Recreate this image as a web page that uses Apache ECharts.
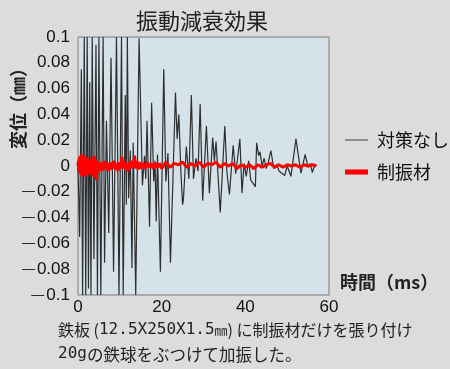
<!DOCTYPE html>
<html><head><meta charset="utf-8">
<script src="https://cdn.jsdelivr.net/npm/echarts@6/dist/echarts.min.js"></script>
<style>html,body{margin:0;padding:0;background:#dcdcdc}#c{width:450px;height:369px}</style>
</head><body><div id="c"></div>
<script>
const titleText = '振動減衰効果';
const yName = '変位（㎜）';
const xName = '時間（ms）';
const seriesNames = ['対策なし', '制振材'];
const xTicks = { min: 0, max: 60, interval: 20 };
const yTicks = { min: -0.1, max: 0.1, interval: 0.02 };

// 対策なし (no treatment)
const blackT = [0.0,0.4,0.8,1.1,1.5,1.85,2.2,2.5,2.8,3.1,3.4,3.8,4.3,4.65,5.0,5.45,6.0,6.35,6.8,7.35,7.9,8.5,9.2,9.8,10.4,10.8,11.3,11.55,11.8,12.1,12.5,12.9,13.2,13.8,14.6,15.4,15.9,16.2,16.5,17.1,17.6,18.1,18.4,18.7,19.0,19.7,20.5,21.0,21.5,22.1,23.3,23.7,24.1,24.6,25.0,25.2,25.9,26.5,27.1,27.6,28.2,28.7,29.2,29.8,30.7,31.4,32.2,32.6,33.0,34.0,35.1,35.6,36.2,37.1,37.7,38.7,39.2,39.7,40.2,40.8,41.3,42.4,42.7,43.2,43.5,44.0,44.5,45.0,45.5,46.1,46.8,47.5,48.1,48.9,49.4,50.0,50.9,52.1,53.3,54.3,55.0,55.5,56.0,56.5];
const blackV = [0,-0.055,0.075,-0.1,0.1,-0.1,0.1,-0.095,0.065,-0.1,0.1,-0.072,0.094,-0.1,0.1,-0.1,0.1,-0.075,0.035,-0.052,0.084,-0.082,0.1,-0.1,0.1,-0.1,0.055,-0.03,0.1,-0.025,0.012,-0.079,0.018,-0.1,0.099,-0.015,0.008,-0.01,0.035,-0.047,0.049,-0.012,0.004,-0.043,0.009,-0.082,0.075,-0.012,0.01,-0.075,0.057,0.021,0.04,-0.005,-0.03,-0.026,0.015,-0.01,0.055,-0.01,0.006,-0.004,0.048,-0.027,0.031,-0.021,0.022,0.004,0.019,-0.036,0.031,-0.005,-0.022,0.016,-0.006,0.021,-0.021,0.002,-0.008,0.004,-0.011,-0.016,0.018,0.008,0.011,0.0,0.006,-0.002,0.003,0.012,-0.002,0.001,-0.004,-0.006,-0.0075,0.0,-0.008,0.021,-0.0055,0.009,-0.001,0.002,-0.005,0.0];

// 制振材 (damping material)
const redT = [0.0,0.1,0.2,0.3,0.4,0.5,0.6,0.7,0.8,0.9,1.0,1.1,1.2,1.3,1.4,1.5,1.6,1.7,1.8,1.9,2.0,2.1,2.2,2.3,2.4,2.5,2.6,2.7,2.8,2.9,3.0,3.1,3.2,3.3,3.4,3.5,3.6,3.7,3.8,3.9,4.0,4.1,4.2,4.3,4.4,4.5,4.6,4.7,4.8,5.0,5.2,5.4,5.6,5.8,6.0,6.3,6.6,6.9,7.2,7.5,7.8,8.1,8.4,8.7,9.0,9.3,9.6,9.9,10.2,10.5,10.8,11.1,11.4,11.7,12.0,12.3,12.6,12.9,13.2,13.5,13.8,14.1,14.4,14.7,15.0,15.5,16.0,16.5,17.0,17.5,18.0,18.5,19.0,19.5,20.0,21,22,23,24,25,26,27,28,29,30,31,32,33,34,35,36,37,38,39,40,41,42,43,44,45,46,47,48,49,50,51,52,53,54,55,56,57];
const redV = [0,0.004,-0.005,0.006,-0.004,0.008,-0.006,0.005,-0.008,0.009,-0.004,0.007,-0.007,0.006,-0.003,0.008,-0.006,0.004,-0.008,0.007,-0.005,0.006,-0.004,0.005,-0.007,0.004,-0.003,0.005,-0.005,0.003,-0.006,0.004,-0.004,0.007,-0.003,0.005,-0.008,0.006,-0.005,0.008,-0.006,0.004,-0.009,0.005,-0.011,0.004,-0.006,0.003,-0.004,0.002,-0.003,0.003,-0.004,0.002,-0.003,0.004,-0.002,0.003,-0.004,0.002,-0.003,0.003,-0.002,0.004,-0.003,0.002,-0.004,0.003,-0.002,0.007,-0.002,0.004,-0.003,0.002,-0.004,0.003,-0.002,0.004,-0.001,0.008,-0.002,0.004,-0.003,0.003,-0.002,0.002,-0.002,0.003,-0.001,0.002,-0.002,0.002,-0.001,0.002,-0.002,0.003,-0.001,0.002,0.001,0.003,-0.001,0.002,0.0,0.003,-0.001,0.002,0.001,0.003,-0.001,0.002,0.0,0.002,-0.002,0.001,-0.001,0.001,-0.002,0.001,-0.001,0.001,0.002,-0.001,0.001,-0.001,0.001,0.0,0.001,-0.001,0.001,0.0,0.001,0.0];

const footLine1 = ['鉄板 (', '12.5X250X1.5', '㎜', ') に制振材だけを張り付け'];
const footLine2 = ['20g', 'の鉄球をぶつけて加振した。'];

const zip = (t, v) => t.map((x, i) => [x, v[i]]);
const CJK = '"Noto Sans CJK JP", sans-serif';
const LAT = '"Liberation Sans", Arial, sans-serif';
const MONO = '"DejaVu Sans Mono", monospace';

const chart = echarts.init(document.getElementById('c'), null, { renderer: 'canvas' });
chart.setOption({
  backgroundColor: '#dcdcdc',
  animation: false,
  title: {
    text: titleText, left: 131, top: 5,
    textStyle: { fontFamily: CJK, fontSize: 22, fontWeight: 'normal', color: '#222' }
  },
  grid: {
    left: 78, right: 121, top: 37, bottom: 74, show: true,
    backgroundColor: '#d5e2ea', borderColor: '#7a7a7a', borderWidth: 1
  },
  legend: {
    orient: 'vertical', left: 340, top: 126, itemWidth: 23, itemHeight: 14, itemGap: 14,
    textStyle: { fontFamily: CJK, fontSize: 18, color: '#111', padding: [0, 0, 0, 4] },
    data: [
      { name: seriesNames[0], icon: 'path://M0,0L1,0L1,0.08L0,0.08Z', itemStyle: { color: '#8a8a8a' } },
      { name: seriesNames[1], icon: 'path://M0,0L1,0L1,0.22L0,0.22Z', itemStyle: { color: '#ff0000' } }
    ]
  },
  xAxis: {
    type: 'value', min: xTicks.min, max: xTicks.max, interval: xTicks.interval,
    axisLine: { show: false }, axisTick: { show: false }, splitLine: { show: false },
    axisLabel: { fontFamily: LAT, fontSize: 17, color: '#111', margin: 4 }
  },
  yAxis: {
    type: 'value', min: yTicks.min, max: yTicks.max, interval: yTicks.interval,
    axisLine: { show: false }, axisTick: { show: false }, splitLine: { show: false },
    axisLabel: {
      margin: 8, fontFamily: LAT, fontSize: 17, color: '#111',
      formatter: v => {
        const r = Math.round(v * 100) / 100;
        if (r === 0) return '0';
        const s = String(Math.abs(r));
        return r < 0 ? '{d|—}' + s : s;
      },
      rich: { d: { fontFamily: LAT, fontSize: 13, color: '#111', padding: [0, 2, 0, 0] } }
    }
  },
  series: [
    {
      name: seriesNames[0], type: 'line', data: zip(blackT, blackV), symbol: 'none',
      lineStyle: { color: '#2e2e2e', width: 1.2 }, itemStyle: { color: '#8a8a8a' }, z: 2
    },
    {
      name: seriesNames[1], type: 'line', data: zip(redT, redV), symbol: 'none',
      lineStyle: { color: '#ff0000', width: 3 }, itemStyle: { color: '#ff0000' }, z: 3
    }
  ],
  graphic: [
    {
      type: 'text', x: 18, y: 104, rotation: Math.PI / 2,
      style: { text: yName, fontFamily: CJK, fontSize: 18, fontWeight: 'bold', fill: '#222', align: 'center', verticalAlign: 'middle' }
    },
    {
      type: 'text', left: 340, top: 273,
      style: { text: xName, fontFamily: CJK, fontSize: 18, fontWeight: 'bold', fill: '#222' }
    },
    {
      type: 'text', left: 58, top: 322,
      style: {
        text: '{a|' + footLine1[0] + '}{m|' + footLine1[1] + '}{s|' + footLine1[2] + '}{a|' + footLine1[3] + '}',
        rich: {
          a: { fontFamily: CJK, fontSize: 16, fill: '#222' },
          m: { fontFamily: MONO, fontSize: 16, fill: '#222' },
          s: { fontFamily: CJK, fontSize: 13, fill: '#222' }
        }
      }
    },
    {
      type: 'text', left: 58, top: 346,
      style: {
        text: '{m|' + footLine2[0] + '}{a|' + footLine2[1] + '}',
        rich: {
          a: { fontFamily: CJK, fontSize: 16.5, fill: '#222' },
          m: { fontFamily: MONO, fontSize: 16, fill: '#222' }
        }
      }
    }
  ]
});
</script></body></html>
